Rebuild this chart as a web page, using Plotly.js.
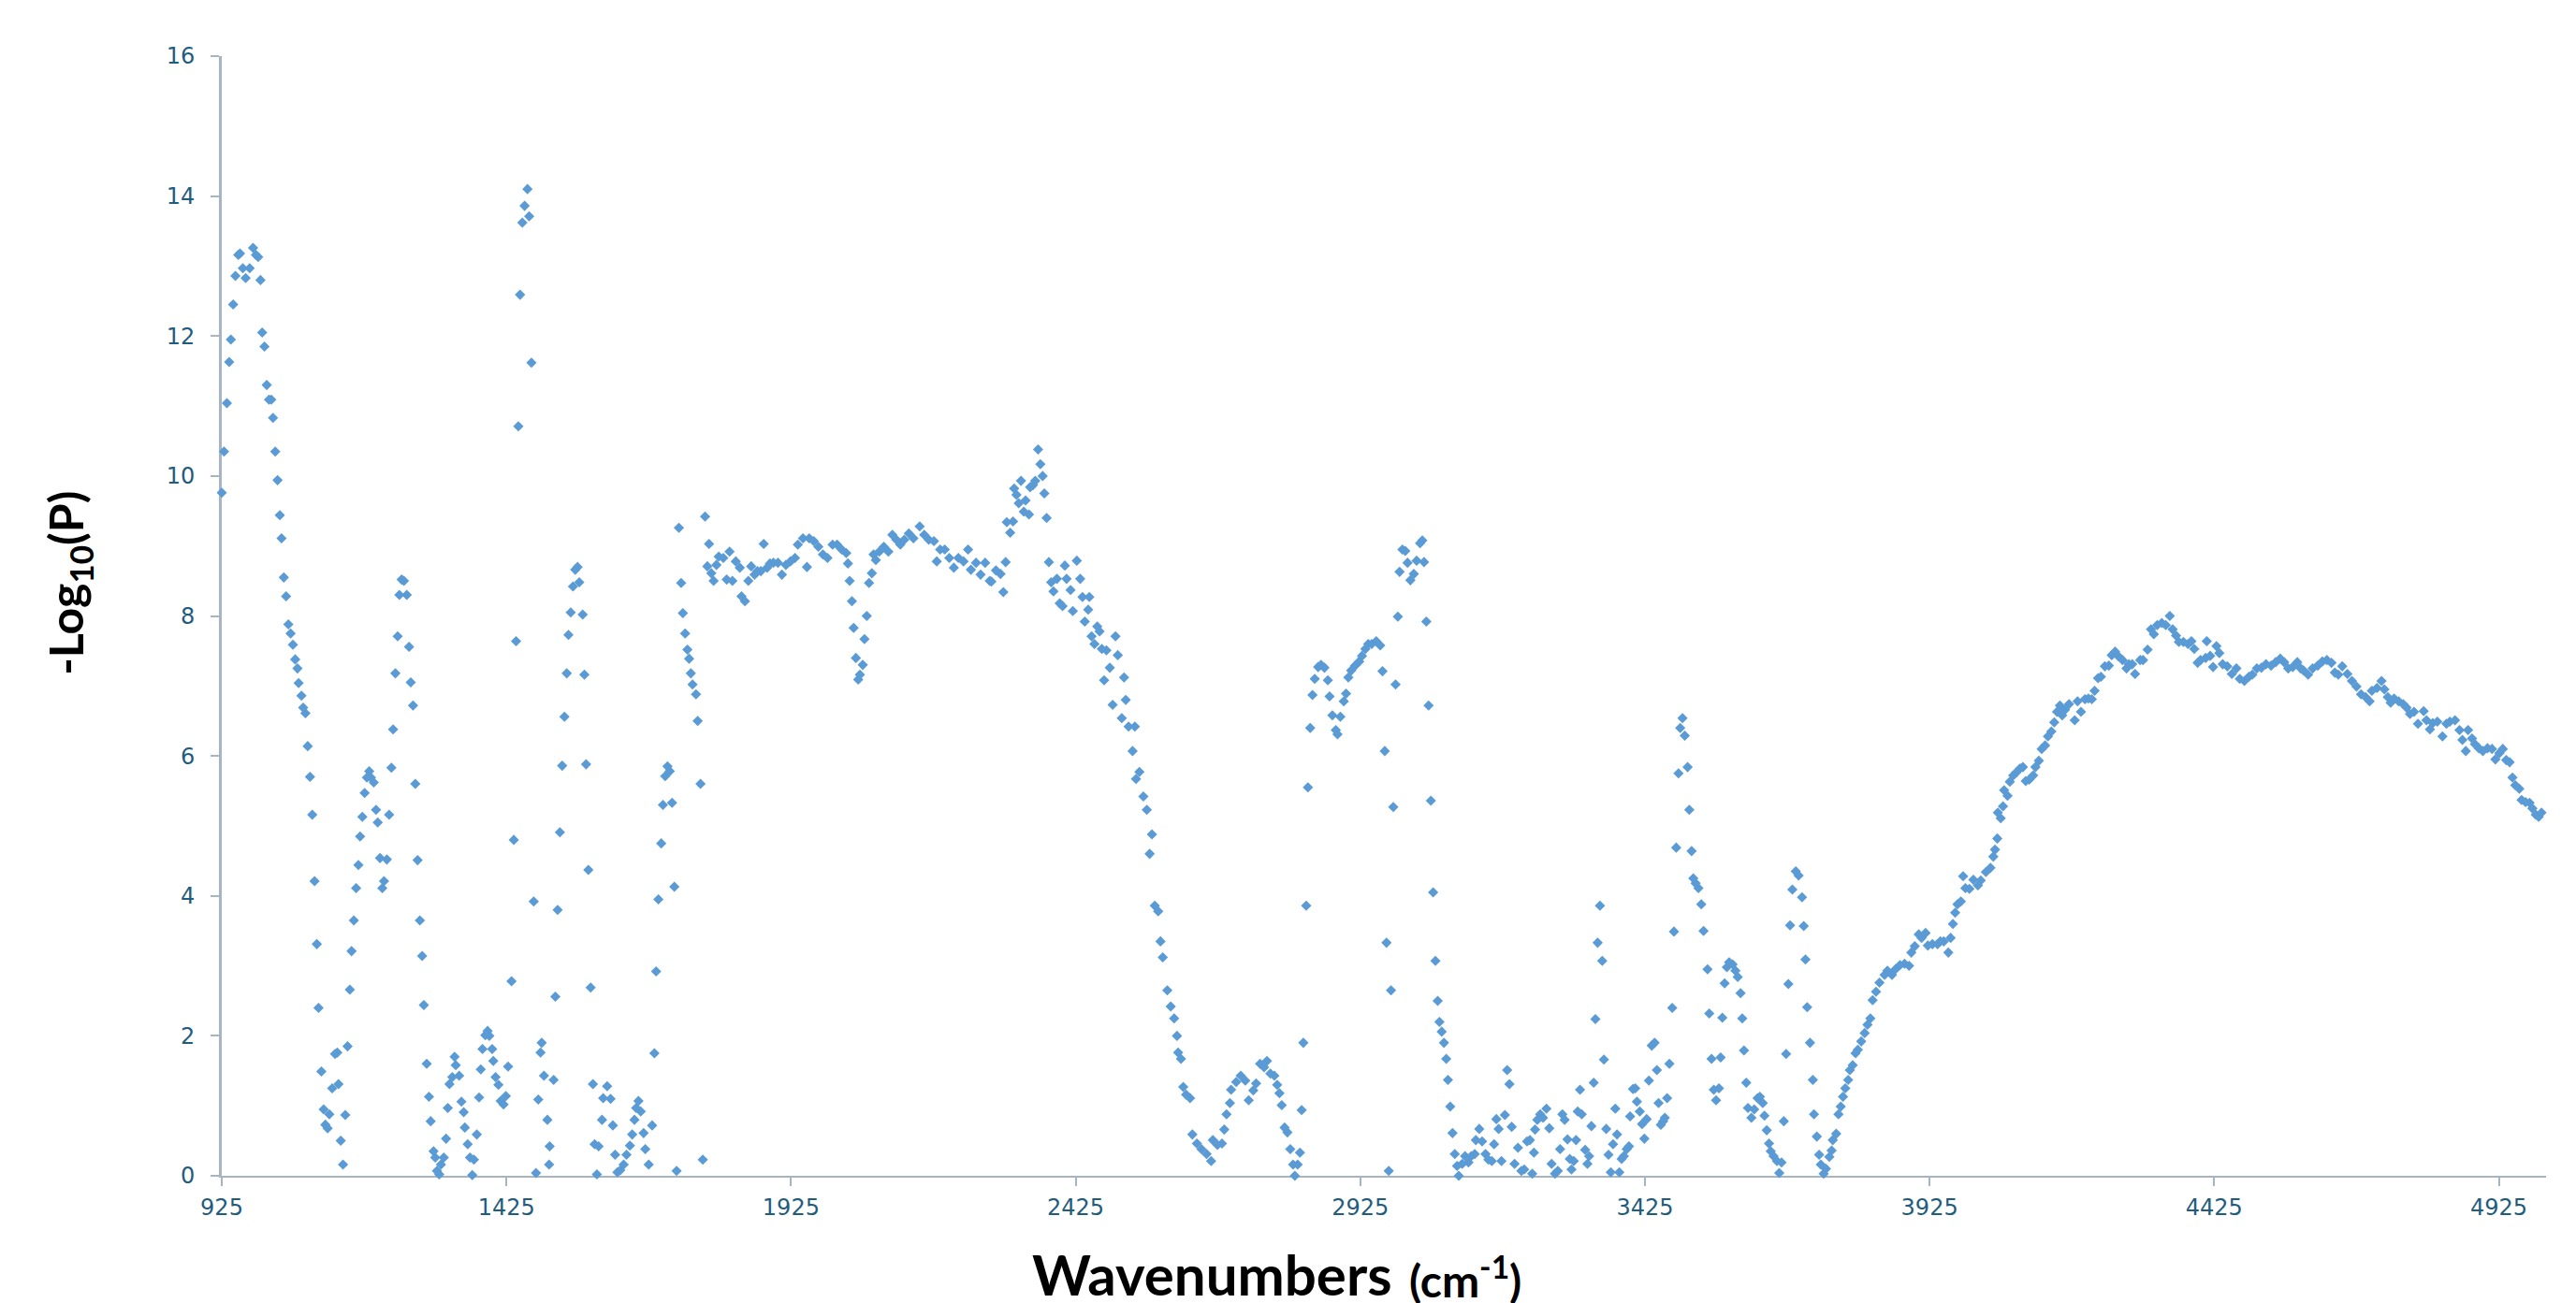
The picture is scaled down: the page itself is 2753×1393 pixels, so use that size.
<!DOCTYPE html>
<html>
<head>
<meta charset="utf-8">
<script src="https://cdn.plot.ly/plotly-3.0.1.min.js"></script>
<style>
  html, body { margin: 0; padding: 0; background: #ffffff; }
  #chart { width: 2753px; height: 1393px; }
</style>
</head>
<body>
<div id="chart"></div>
<script>
// Wavenumbers (cm-1)
const wavenumbers = [
  925,929,934,938,941,945,949,954,957,962,
  967,974,980,985,989,993,996,1000,1004,1008,
  1012,1015,1019,1023,1027,1030,1034,1038,1042,1046,
  1050,1054,1058,1060,1065,1068,1072,1076,1080,1084,
  1088,1092,1095,1100,1104,1107,1111,1114,1119,1124,
  1128,1130,1134,1138,1142,1146,1150,1153,1157,1161,
  1165,1168,1172,1176,1180,1184,1187,1192,1196,1199,
  1203,1207,1210,1215,1219,1223,1226,1230,1234,1237,
  1241,1245,1250,1254,1257,1261,1265,1269,1273,1277,
  1280,1285,1289,1292,1297,1300,1303,1307,1310,1315,
  1319,1322,1325,1330,1334,1336,1342,1346,1350,1352,
  1357,1361,1365,1368,1373,1377,1380,1383,1388,1392,
  1395,1400,1402,1406,1411,1415,1420,1424,1428,1434,
  1438,1442,1446,1449,1453,1457,1462,1465,1469,1473,
  1477,1481,1485,1487,1491,1497,1500,1501,1508,1511,
  1515,1519,1523,1527,1531,1534,1538,1542,1546,1550,
  1553,1559,1562,1565,1569,1573,1577,1580,1584,1587,
  1593,1595,1602,1608,1612,1616,1620,1625,1631,1636,
  1642,1646,1650,1653,1657,1661,1666,1669,1675,1681,
  1685,1688,1692,1697,1700,1704,1708,1712,1716,1720,
  1724,1728,1732,1735,1739,1743,1746,1749,1752,1758,
  1761,1766,1770,1774,1778,1781,1785,1789,1794,1798,
  1806,1812,1817,1822,1828,1835,1838,1844,1850,1855,
  1861,1866,1872,1877,1883,1888,1894,1902,1909,1916,
  1924,1932,1937,1946,1953,1957,1965,1973,1981,1989,
  1998,2006,2014,2022,2025,2028,2032,2035,2039,2043,
  2046,2051,2054,2058,2062,2067,2070,2074,2080,2088,
  2096,2103,2110,2117,2124,2132,2140,2151,2159,2167,
  2176,2181,2187,2195,2203,2211,2219,2228,2236,2241,
  2250,2258,2266,2274,2277,2285,2293,2298,2302,2304,
  2310,2315,2317,2321,2325,2329,2334,2337,2343,2345,
  2350,2354,2359,2363,2367,2370,2374,2378,2382,2386,
  2392,2397,2402,2406,2409,2416,2420,2427,2433,2437,
  2441,2447,2449,2453,2458,2463,2467,2471,2475,2479,
  2485,2490,2495,2499,2506,2510,2513,2518,2525,2529,
  2531,2537,2544,2550,2555,2559,2564,2570,2574,2578,
  2586,2592,2598,2603,2605,2610,2614,2619,2626,2630,
  2638,2646,2655,2663,2666,2674,2682,2686,2690,2696,
  2698,2707,2715,2723,2729,2737,2742,2749,2756,2761,
  2767,2774,2779,2783,2787,2792,2797,2802,2807,2810,
  2815,2819,2822,2825,2830,2833,2837,2841,2845,2851,
  2856,2862,2868,2871,2876,2882,2885,2890,2896,2900,
  2904,2909,2916,2923,2928,2934,2939,2945,2953,2960,
  2964,2968,2971,2975,2979,2983,2987,2991,2994,2999,
  3004,3008,3013,3019,3024,3030,3034,3037,3041,3045,
  3049,3053,3057,3061,3064,3068,3072,3076,3079,3083,
  3087,3091,3095,3098,3104,3109,3115,3120,3126,3128,
  3134,3139,3145,3150,3156,3160,3164,3168,3173,3179,
  3183,3187,3191,3196,3202,3208,3213,3218,3223,3227,
  3230,3232,3236,3241,3246,3252,3257,3261,3267,3272,
  3276,3280,3284,3289,3293,3296,3300,3304,3307,3311,
  3314,3320,3324,3327,3331,3335,3338,3342,3346,3350,
  3353,3357,3361,3365,3369,3373,3376,3380,3384,3388,
  3393,3397,3399,3404,3408,3411,3416,3420,3424,3428,
  3432,3437,3442,3446,3449,3453,3457,3460,3464,3468,
  3473,3476,3480,3484,3487,3491,3495,3500,3503,3507,
  3510,3514,3519,3524,3528,3535,3538,3542,3546,3550,
  3555,3558,3561,3565,3569,3573,3579,3584,3588,3593,
  3596,3599,3603,3606,3612,3617,3623,3627,3632,3635,
  3639,3643,3646,3651,3657,3661,3665,3669,3673,3677,
  3680,3684,3690,3695,3701,3704,3707,3710,3715,3720,
  3722,3727,3731,3734,3739,3743,3749,3753,3755,3761,
  3765,3769,3773,3777,3782,3785,3790,3795,3799,3805,
  3811,3816,3821,3825,3831,3837,3846,3851,3859,3865,
  3873,3881,3889,3893,3899,3906,3911,3918,3922,3930,
  3939,3944,3950,3958,3962,3966,3970,3974,3980,3984,
  3988,3995,4002,4010,4015,4024,4032,4037,4040,4044,
  4045,4050,4054,4056,4062,4066,4072,4077,4084,4089,
  4094,4100,4107,4111,4117,4122,4128,4133,4139,4144,
  4149,4154,4158,4163,4170,4180,4185,4191,4198,4204,
  4210,4215,4221,4226,4233,4240,4245,4251,4256,4264,
  4271,4275,4281,4286,4295,4300,4308,4314,4319,4325,
  4333,4340,4347,4352,4358,4363,4371,4379,4385,4390,
  4396,4401,4410,4412,4418,4423,4429,4434,4440,4448,
  4456,4464,4470,4478,4486,4492,4500,4508,4516,4525,
  4533,4541,4548,4555,4563,4571,4577,4582,4590,4598,
  4607,4615,4623,4631,4637,4643,4650,4659,4667,4675,
  4683,4691,4698,4702,4711,4719,4724,4730,4735,4741,
  4749,4757,4763,4769,4776,4783,4793,4798,4804,4809,
  4817,4826,4833,4839,4848,4856,4861,4867,4871,4878,
  4883,4890,4897,4905,4913,4919,4926,4932,4938,4944,
  4949,4954,4961,4965,4972,4979,4984,4990,4995,5000
];

// -Log10(P) values
const negLog10P = [
  9.76,10.35,11.04,11.63,11.95,12.45,12.86,13.16,13.18,12.97,
  12.83,12.97,13.26,13.16,13.13,12.80,12.05,11.85,11.30,11.09,
  11.09,10.83,10.35,9.94,9.44,9.11,8.55,8.28,7.88,7.75,
  7.59,7.38,7.25,7.04,6.86,6.69,6.61,6.14,5.70,5.16,
  4.21,3.31,2.40,1.49,0.95,0.73,0.68,0.88,1.25,1.74,
  1.76,1.31,0.50,0.16,0.87,1.85,2.66,3.21,3.65,4.11,
  4.44,4.85,5.13,5.47,5.69,5.78,5.69,5.62,5.23,5.05,
  4.54,4.11,4.21,4.52,5.16,5.83,6.38,7.18,7.71,8.30,
  8.52,8.50,8.30,7.56,7.05,6.72,5.60,4.51,3.65,3.14,
  2.44,1.60,1.13,0.78,0.35,0.26,0.07,0.02,0.16,0.26,
  0.53,0.97,1.31,1.41,1.70,1.58,1.43,1.06,0.91,0.69,
  0.45,0.26,0.01,0.23,0.59,1.12,1.52,1.81,2.01,2.07,
  2.00,1.81,1.64,1.41,1.30,1.07,1.02,1.14,1.56,2.78,
  4.80,7.64,10.71,12.59,13.62,13.86,14.10,13.71,11.62,3.92,
  0.04,1.09,1.76,1.90,1.43,0.80,0.16,0.42,1.37,2.56,
  3.80,4.91,5.86,6.56,7.18,7.73,8.05,8.42,8.66,8.70,
  8.48,8.02,7.16,5.88,4.37,2.69,1.31,0.45,0.02,0.42,
  0.80,1.11,1.28,1.10,0.72,0.30,0.05,0.08,0.16,0.30,
  0.43,0.59,0.80,0.97,1.07,0.92,0.61,0.38,0.16,0.72,
  1.75,2.92,3.95,4.75,5.30,5.71,5.85,5.78,5.33,4.13,
  0.07,9.26,8.47,8.04,7.75,7.52,7.39,7.18,7.02,6.88,
  6.50,5.60,0.23,9.42,8.71,9.03,8.61,8.50,8.73,8.85,
  8.83,8.52,8.92,8.50,8.78,8.69,8.28,8.21,8.50,8.71,
  8.59,8.64,8.64,9.03,8.69,8.75,8.76,8.76,8.59,8.73,
  8.78,8.83,9.02,9.11,8.70,9.11,9.07,8.99,8.88,8.83,
  9.02,9.02,8.95,8.90,8.75,8.50,8.21,7.83,7.40,7.09,
  7.16,7.30,7.67,8.00,8.47,8.61,8.88,8.80,8.92,8.99,
  8.92,9.16,9.09,9.02,9.09,9.18,9.11,9.28,9.16,9.09,
  9.07,8.78,8.95,8.95,8.83,8.69,8.83,8.78,8.95,8.66,
  8.76,8.59,8.76,8.50,8.49,8.65,8.60,8.34,8.77,9.34,
  9.19,9.35,9.82,9.73,9.61,9.93,9.49,9.65,9.45,9.84,
  9.87,9.93,10.38,10.17,10.00,9.75,9.40,8.77,8.48,8.35,
  8.53,8.18,8.14,8.72,8.53,8.37,8.07,8.79,8.53,8.27,
  7.92,8.09,8.27,7.71,7.60,7.85,7.78,7.53,7.08,7.51,
  7.26,6.73,7.71,7.44,6.54,7.12,6.80,6.42,6.07,6.42,
  5.67,5.77,5.42,5.23,4.60,4.88,3.86,3.78,3.35,3.12,
  2.65,2.42,2.25,2.00,1.76,1.67,1.27,1.16,1.11,0.59,
  0.46,0.38,0.31,0.21,0.51,0.44,0.46,0.66,0.88,1.04,
  1.23,1.34,1.43,1.36,1.08,1.22,1.32,1.60,1.55,1.64,
  1.46,1.43,1.30,1.18,1.01,0.69,0.62,0.38,0.16,0.00,
  0.16,0.33,0.94,1.90,3.86,5.55,6.40,6.87,7.10,7.27,
  7.30,7.26,7.08,6.85,6.58,6.37,6.31,6.56,6.78,6.89,
  7.12,7.22,7.29,7.35,7.43,7.53,7.60,7.60,7.64,7.58,
  7.21,6.07,3.33,0.07,2.65,5.27,7.02,7.99,8.63,8.95,
  8.93,8.76,8.51,8.60,8.79,9.04,9.08,8.77,7.92,6.72,
  5.36,4.05,3.07,2.50,2.20,2.06,1.90,1.67,1.37,0.99,
  0.61,0.31,0.14,0.00,0.17,0.28,0.19,0.28,0.31,0.51,
  0.67,0.49,0.31,0.23,0.21,0.45,0.81,0.67,0.21,0.87,
  1.51,1.31,0.70,0.17,0.40,0.07,0.09,0.49,0.51,0.03,
  0.33,0.66,0.80,0.88,0.83,0.96,0.68,0.17,0.03,0.07,
  0.38,0.88,0.80,0.52,0.24,0.09,0.21,0.51,0.92,1.23,
  0.88,0.37,0.17,0.28,0.71,1.33,2.24,3.33,3.86,3.07,
  1.66,0.67,0.30,0.05,0.45,0.96,0.59,0.05,0.24,0.28,
  0.38,0.42,0.85,1.24,1.25,1.06,0.92,0.74,0.53,0.81,
  1.36,1.86,1.90,1.51,1.04,0.73,0.78,0.83,1.11,1.60,
  2.40,3.49,4.69,5.75,6.40,6.54,6.29,5.84,5.23,4.64,
  4.25,4.18,4.11,3.88,3.50,2.95,2.32,1.67,1.23,1.08,
  1.25,1.69,2.26,2.75,2.98,3.05,3.02,2.93,2.84,2.61,
  2.25,1.79,1.33,0.97,0.83,0.95,1.11,1.13,1.04,0.86,
  0.65,0.46,0.35,0.28,0.21,0.04,0.19,0.78,1.74,2.74,
  3.58,4.09,4.35,4.29,3.98,3.57,3.09,2.41,1.90,1.37,
  0.88,0.56,0.30,0.16,0.03,0.10,0.27,0.36,0.51,0.60,
  0.88,0.99,1.13,1.25,1.37,1.51,1.58,1.75,1.80,1.92,
  2.04,2.16,2.25,2.51,2.63,2.76,2.87,2.93,2.87,2.95,
  3.01,3.03,3.00,3.19,3.28,3.45,3.40,3.47,3.29,3.31,
  3.31,3.35,3.35,3.19,3.40,3.60,3.76,3.88,3.92,4.28,
  4.11,4.10,4.23,4.15,4.22,4.34,4.40,4.56,4.66,4.82,
  5.19,5.11,5.28,5.51,5.43,5.63,5.72,5.76,5.82,5.84,
  5.64,5.66,5.72,5.84,5.93,6.10,6.15,6.28,6.35,6.48,
  6.63,6.72,6.58,6.66,6.74,6.51,6.78,6.63,6.81,6.82,
  6.81,6.93,7.11,7.13,7.28,7.29,7.44,7.49,7.43,7.37,
  7.25,7.31,7.31,7.17,7.37,7.37,7.52,7.81,7.74,7.87,
  7.90,7.87,8.00,7.81,7.72,7.63,7.63,7.60,7.64,7.53,
  7.33,7.37,7.40,7.64,7.43,7.27,7.57,7.47,7.31,7.28,
  7.17,7.25,7.10,7.07,7.13,7.16,7.25,7.26,7.31,7.29,
  7.34,7.39,7.34,7.25,7.27,7.34,7.25,7.22,7.16,7.25,
  7.29,7.35,7.37,7.33,7.19,7.16,7.28,7.17,7.07,6.99,
  6.88,6.84,6.78,6.93,6.97,7.07,6.95,6.84,6.76,6.82,
  6.78,6.74,6.69,6.60,6.63,6.46,6.64,6.51,6.38,6.47,
  6.49,6.28,6.46,6.49,6.51,6.37,6.23,6.07,6.37,6.25,
  6.17,6.11,6.07,6.11,6.10,5.95,6.04,6.10,5.94,5.91,
  5.69,5.58,5.53,5.37,5.34,5.33,5.25,5.16,5.13,5.19
];

// Axis ticks
const xTickValues = [925, 1425, 1925, 2425, 2925, 3425, 3925, 4425, 4925];
const xTickLabels = ['925', '1425', '1925', '2425', '2925', '3425', '3925', '4425', '4925'];
const yTickValues = [0, 2, 4, 6, 8, 10, 12, 14, 16];
const yTickLabels = ['0', '2', '4', '6', '8', '10', '12', '14', '16'];

const xTitleMain = '<b>Wavenumbers</b>';
const xTitleUnit = '<b>(cm<sup>-1</sup>)</b>';
const yTitle = '<b>-Log<sub>10</sub>(P)</b>';

const axisColor = '#A7B4C2';
const tickTextColor = '#1F5C7E';
const titleFont = 'Lato, "Open Sans", "DejaVu Sans", sans-serif';

const trace = {
  type: 'scatter',
  mode: 'markers',
  x: wavenumbers,
  y: negLog10P,
  cliponaxis: false,
  marker: { symbol: 'diamond', size: 8.5, color: '#5B9BD5', line: { width: 0 } },
  hoverinfo: 'x+y',
  showlegend: false
};

const layout = {
  width: 2753,
  height: 1393,
  margin: { l: 237, r: 32, t: 60, b: 136, pad: 0 },
  paper_bgcolor: '#ffffff',
  plot_bgcolor: '#ffffff',
  showlegend: false,
  xaxis: {
    range: [925, 5008],
    tickmode: 'array',
    tickvals: xTickValues,
    ticktext: xTickLabels,
    showgrid: false,
    zeroline: false,
    showline: true,
    linecolor: axisColor,
    linewidth: 2,
    ticks: 'outside',
    ticklen: 9,
    tickwidth: 2,
    tickcolor: axisColor,
    ticklabelstandoff: 2,
    tickfont: { family: '"DejaVu Sans", Verdana, sans-serif', size: 24, color: tickTextColor },
    layer: 'below traces'
  },
  yaxis: {
    range: [0, 16],
    tickmode: 'array',
    tickvals: yTickValues,
    ticktext: yTickLabels,
    showgrid: false,
    zeroline: false,
    showline: true,
    linecolor: axisColor,
    linewidth: 3,
    ticks: 'outside',
    ticklen: 9,
    tickwidth: 2,
    tickcolor: axisColor,
    ticklabelstandoff: 12,
    tickfont: { family: '"DejaVu Sans", Verdana, sans-serif', size: 24, color: tickTextColor },
    layer: 'below traces'
  },
  annotations: [
    {
      text: xTitleMain,
      xref: 'paper', yref: 'paper',
      x: 0.5044, y: -0.088,
      xanchor: 'right', yanchor: 'middle',
      showarrow: false,
      font: { family: titleFont, size: 60, color: '#000000' }
    },
    {
      text: xTitleUnit,
      xref: 'paper', yref: 'paper',
      x: 0.5100, y: -0.0905,
      xanchor: 'left', yanchor: 'middle',
      showarrow: false,
      font: { family: titleFont, size: 48, color: '#000000' }
    },
    {
      text: yTitle,
      xref: 'paper', yref: 'paper',
      x: -0.0656, y: 0.529,
      xanchor: 'center', yanchor: 'middle',
      textangle: -90,
      showarrow: false,
      font: { family: titleFont, size: 50, color: '#000000' }
    }
  ]
};

Plotly.newPlot('chart', [trace], layout, { displayModeBar: false, staticPlot: true });
</script>
</body>
</html>
